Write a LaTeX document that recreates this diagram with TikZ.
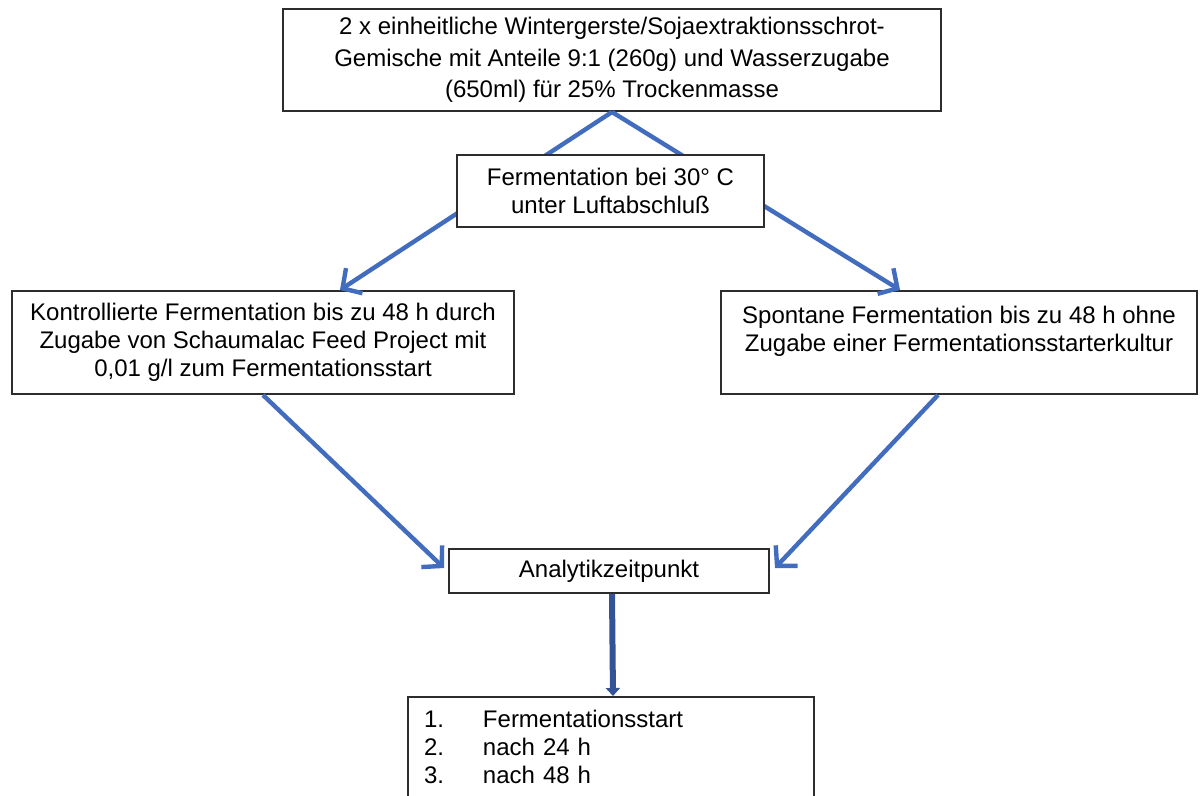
\documentclass[tikz,border=0pt]{standalone}
\usepackage{fontspec}
\setmainfont{Liberation Sans}
\usetikzlibrary{arrows.meta,calc}
\definecolor{arrowblue}{RGB}{66,108,190}
\definecolor{darkblue}{RGB}{52,82,150}
\definecolor{boxline}{RGB}{45,45,45}
\tikzset{
  box/.style={draw=boxline, line width=1pt, fill=white, align=center, font=\fontsize{12}{14}\selectfont, inner sep=0pt},
  conn/.style={draw=arrowblue, line width=2.2pt, -{Straight Barb[length=7pt,width=15pt,line width=2.2pt]}},
  vconn/.style={draw=darkblue, line width=3pt, -{Triangle[length=4pt,width=7pt]}}
}
\begin{document}
\begin{tikzpicture}[x=0.5pt,y=-0.5pt]
\useasboundingbox (0,0) rectangle (1200,796);
\clip (0,0) rectangle (1200,796);
\fill[white] (0,0) rectangle (1200,796);

\node[box, minimum width=329pt, minimum height=51pt, font=\fontsize{12}{15.75}\selectfont] (top) at (612,60)
  {2 x einheitliche Wintergerste/Sojaextraktionsschrot-\\Gemische mit Anteile 9:1 (260g) und Wasserzugabe\\(650ml) für 25\% Trockenmasse};

\node[box, minimum width=251pt, minimum height=51.5pt, anchor=north] (left) at (263,290)
  {Kontrollierte Fermentation bis zu 48 h durch\\Zugabe von Schaumalac Feed Project mit\\0,01 g/l zum Fermentationsstart};
\node[box, minimum width=238pt, minimum height=51.5pt, anchor=north] (right) at (959,290)
  {Spontane Fermentation bis zu 48 h ohne\\Zugabe einer Fermentationsstarterkultur\\\mbox{}};

% connectors from top box (drawn below the fermentation box)
\draw[conn] (top.south) -- ($(left.north)+(77,0)$);
\draw[conn] (top.south) -- ($(right.north)+(-59,0)$);

\node[box, minimum width=153.5pt, minimum height=36pt] (ferm) at (610.5,191)
  {Fermentation bei 30° C\\unter Luftabschluß};

\node[box, minimum width=160pt, minimum height=22pt] (ana) at (609,571) {Analytikzeitpunkt};

\draw[conn] (left.south) -- ($(ana.west)+(-4,-3)$);
\draw[conn] ($(right.south)+(-21,0)$) -- ($(ana.east)+(5,-3)$);

\node[box, anchor=north west, minimum width=203pt, text width=187pt, align=left, inner xsep=8pt, inner ysep=6.4pt] (list) at (407,696)
  {\makebox[29.5pt][l]{1.}Fermentationsstart\\\makebox[29.5pt][l]{2.}nach 24 h\\\makebox[29.5pt][l]{3.}nach 48 h\\\mbox{}};

\draw[vconn] ($(ana.south)+(3,0)$) -- ($(list.north)+(2,0)$);
\end{tikzpicture}
\end{document}
